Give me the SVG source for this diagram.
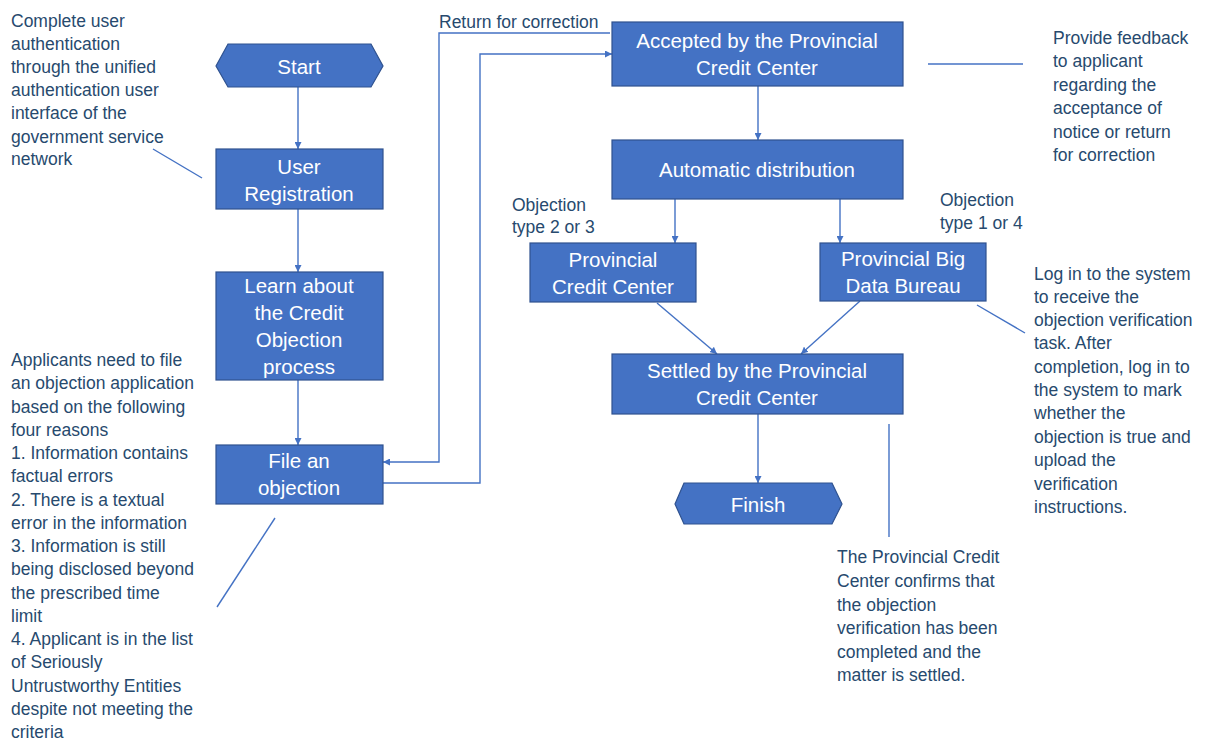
<svg xmlns="http://www.w3.org/2000/svg" width="1209" height="742" viewBox="0 0 1209 742">
<style>
.box{fill:#4472C4;stroke:#2F528F;stroke-width:1.2}
.bt{font-family:"Liberation Sans",Arial,sans-serif;font-size:20.5px;fill:#FFFFFF;text-anchor:middle;dominant-baseline:central}
.note{font-family:"Liberation Sans",Arial,sans-serif;font-size:17.5px;fill:#274A6E;dominant-baseline:central}
.ln{fill:none;stroke:#4472C4;stroke-width:1.4}
.arr{fill:none;stroke:#4472C4;stroke-width:1.4;marker-end:url(#ah)}
</style>
<defs>
<marker id="ah" viewBox="0 0 10 10" refX="10" refY="5" markerWidth="7" markerHeight="7" markerUnits="userSpaceOnUse" orient="auto">
<path d="M0,0 L10,5 L0,10 z" fill="#4472C4"/>
</marker>
</defs>
<rect width="1209" height="742" fill="#FFFFFF"/>

<g id="connectors">
<line class="arr" x1="298" y1="87" x2="298" y2="149"/>
<line class="arr" x1="298" y1="209" x2="298" y2="272"/>
<line class="arr" x1="298" y1="380" x2="298" y2="445"/>
<polyline class="arr" points="610,33 439,33 439,462 383,462"/>
<polyline class="arr" points="383,483 480,483 480,54 612,54"/>
<line class="arr" x1="758" y1="86" x2="758" y2="140"/>
<line class="arr" x1="675" y1="199" x2="675" y2="243"/>
<line class="arr" x1="840" y1="199" x2="840" y2="243"/>
<line class="arr" x1="657" y1="303" x2="717" y2="354"/>
<line class="arr" x1="860" y1="301" x2="801" y2="354"/>
<line class="arr" x1="758" y1="414" x2="758" y2="483"/>
<line class="ln" x1="153" y1="149" x2="202" y2="178"/>
<line class="ln" x1="217" y1="607" x2="275" y2="518"/>
<line class="ln" x1="928" y1="64" x2="1023" y2="64"/>
<line class="ln" x1="977" y1="305" x2="1025" y2="333"/>
<line class="ln" x1="889" y1="424" x2="889" y2="537"/>
</g>

<g id="start">
<polygon class="box" points="216,66 228,44 371,44 383,66 371,87 228,87"/>
<text class="bt" x="299" y="66">Start</text>
</g>
<g id="user-registration">
<rect class="box" x="216" y="149" width="167" height="60"/>
<text class="bt" x="299" y="166">User</text>
<text class="bt" x="299" y="193">Registration</text>
</g>
<g id="learn-about">
<rect class="box" x="216" y="272" width="167" height="108"/>
<text class="bt" x="299" y="285">Learn about</text>
<text class="bt" x="299" y="312">the Credit</text>
<text class="bt" x="299" y="339">Objection</text>
<text class="bt" x="299" y="366">process</text>
</g>
<g id="file-objection">
<rect class="box" x="216" y="445" width="167" height="59"/>
<text class="bt" x="299" y="460">File an</text>
<text class="bt" x="299" y="487">objection</text>
</g>
<g id="accepted">
<rect class="box" x="612" y="22" width="291" height="64"/>
<text class="bt" x="757" y="40">Accepted by the Provincial</text>
<text class="bt" x="757" y="67">Credit Center</text>
</g>
<g id="automatic-distribution">
<rect class="box" x="612" y="140" width="291" height="59"/>
<text class="bt" x="757" y="169">Automatic distribution</text>
</g>
<g id="provincial-credit-center">
<rect class="box" x="530" y="243" width="166" height="59"/>
<text class="bt" x="613" y="259">Provincial</text>
<text class="bt" x="613" y="286">Credit Center</text>
</g>
<g id="big-data-bureau">
<rect class="box" x="820" y="243" width="166" height="58"/>
<text class="bt" x="903" y="258">Provincial Big</text>
<text class="bt" x="903" y="285">Data Bureau</text>
</g>
<g id="settled">
<rect class="box" x="612" y="354" width="291" height="60"/>
<text class="bt" x="757" y="370">Settled by the Provincial</text>
<text class="bt" x="757" y="397">Credit Center</text>
</g>
<g id="finish">
<polygon class="box" points="675,504 684,483 832,483 842,504 832,524 684,524"/>
<text class="bt" x="758" y="504">Finish</text>
</g>

<g id="labels">
<text class="note" x="439" y="22">Return for correction</text>
<text class="note" x="512" y="205">Objection</text>
<text class="note" x="512" y="227">type 2 or 3</text>
<text class="note" x="940" y="200">Objection</text>
<text class="note" x="940" y="223">type 1 or 4</text>
</g>

<g id="note-auth">
<text class="note" x="11" y="21">Complete user</text>
<text class="note" x="11" y="44">authentication</text>
<text class="note" x="11" y="67">through the unified</text>
<text class="note" x="11" y="90">authentication user</text>
<text class="note" x="11" y="113">interface of the</text>
<text class="note" x="11" y="137">government service</text>
<text class="note" x="11" y="159">network</text>
</g>

<g id="note-reasons">
<text class="note" x="11" y="360">Applicants need to file</text>
<text class="note" x="11" y="383">an objection application</text>
<text class="note" x="11" y="407">based on the following</text>
<text class="note" x="11" y="430">four reasons</text>
<text class="note" x="11" y="453">1. Information contains</text>
<text class="note" x="11" y="476">factual errors</text>
<text class="note" x="11" y="500">2. There is a textual</text>
<text class="note" x="11" y="523">error in the information</text>
<text class="note" x="11" y="546">3. Information is still</text>
<text class="note" x="11" y="569">being disclosed beyond</text>
<text class="note" x="11" y="593">the prescribed time</text>
<text class="note" x="11" y="616">limit</text>
<text class="note" x="11" y="639">4. Applicant is in the list</text>
<text class="note" x="11" y="662">of Seriously</text>
<text class="note" x="11" y="686">Untrustworthy Entities</text>
<text class="note" x="11" y="709">despite not meeting the</text>
<text class="note" x="11" y="732">criteria</text>
</g>

<g id="note-feedback">
<text class="note" x="1053" y="38">Provide feedback</text>
<text class="note" x="1053" y="61">to applicant</text>
<text class="note" x="1053" y="85">regarding the</text>
<text class="note" x="1053" y="108">acceptance of</text>
<text class="note" x="1053" y="132">notice or return</text>
<text class="note" x="1053" y="155">for correction</text>
</g>

<g id="note-login">
<text class="note" x="1034" y="274">Log in to the system</text>
<text class="note" x="1034" y="297">to receive the</text>
<text class="note" x="1034" y="320">objection verification</text>
<text class="note" x="1034" y="343">task. After</text>
<text class="note" x="1034" y="367">completion, log in to</text>
<text class="note" x="1034" y="390">the system to mark</text>
<text class="note" x="1034" y="413">whether the</text>
<text class="note" x="1034" y="437">objection is true and</text>
<text class="note" x="1034" y="460">upload the</text>
<text class="note" x="1034" y="484">verification</text>
<text class="note" x="1034" y="507">instructions.</text>
</g>

<g id="note-settled">
<text class="note" x="837" y="557">The Provincial Credit</text>
<text class="note" x="837" y="581">Center confirms that</text>
<text class="note" x="837" y="605">the objection</text>
<text class="note" x="837" y="628">verification has been</text>
<text class="note" x="837" y="652">completed and the</text>
<text class="note" x="837" y="675">matter is settled.</text>
</g>
</svg>
